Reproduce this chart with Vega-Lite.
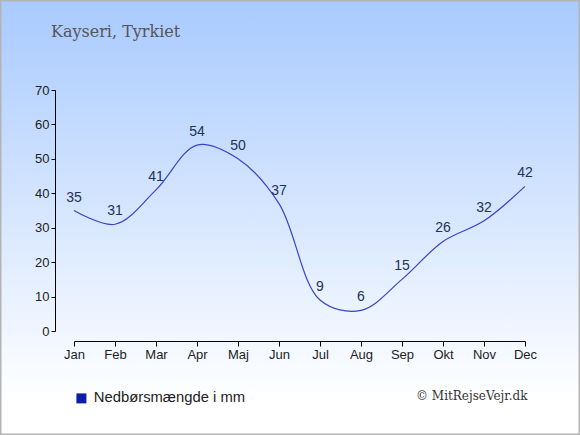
{
  "$schema": "https://vega.github.io/schema/vega-lite/v6.json",
  "width": 580,
  "height": 435,
  "autosize": "none",
  "padding": 0,
  "background": "#ffffff",
  "title": {
    "text": "Kayseri, Tyrkiet",
    "anchor": "start",
    "frame": "group",
    "orient": "top",
    "offset": -40,
    "dx": 51,
    "font": "DejaVu Serif",
    "fontSize": 16,
    "fontWeight": "normal",
    "color": "#555555"
  },
  "config": {
    "view": {
      "fill": {
        "gradient": "linear",
        "x1": 0, "y1": 0, "x2": 0, "y2": 1,
        "stops": [
          {"offset": 0, "color": "#a8caff"},
          {"offset": 0.92, "color": "#ffffff"}
        ]
      },
      "stroke": "#b4b4b4",
      "strokeWidth": 3
    },
    "axis": {
      "labelFont": "Liberation Sans",
      "labelFontSize": 13,
      "labelColor": "#222222",
      "domainColor": "#000000",
      "tickColor": "#000000",
      "grid": false
    }
  },
  "data": {
    "values": [
      {"month": "Jan", "mm": 35},
      {"month": "Feb", "mm": 31},
      {"month": "Mar", "mm": 41},
      {"month": "Apr", "mm": 54},
      {"month": "Maj", "mm": 50},
      {"month": "Jun", "mm": 37},
      {"month": "Jul", "mm": 9},
      {"month": "Aug", "mm": 6},
      {"month": "Sep", "mm": 15},
      {"month": "Okt", "mm": 26},
      {"month": "Nov", "mm": 32},
      {"month": "Dec", "mm": 42}
    ]
  },
  "encoding": {
    "x": {
      "field": "month",
      "type": "ordinal",
      "sort": null,
      "scale": {"type": "point", "range": [74, 525], "padding": 0},
      "axis": {
        "orient": "bottom",
        "offset": -94,
        "labelAngle": 0,
        "tickSize": 5,
        "title": "© MitRejseVejr.dk",
        "titleFont": "DejaVu Serif",
        "titleFontSize": 12,
        "titleFontWeight": "normal",
        "titleColor": "#333333",
        "titleX": 527,
        "titleY": 58,
        "titleAlign": "right",
        "titleBaseline": "alphabetic"
      }
    },
    "y": {
      "field": "mm",
      "type": "quantitative",
      "scale": {"domain": [0, 70], "range": [331, 90], "nice": false},
      "axis": {
        "orient": "left",
        "offset": -55,
        "values": [0, 10, 20, 30, 40, 50, 60, 70],
        "tickSize": 4,
        "title": null
      }
    }
  },
  "layer": [
    {
      "mark": {"type": "line", "interpolate": "catmull-rom", "strokeWidth": 1.2, "clip": false},
      "encoding": {
        "color": {
          "datum": "Nedbørsmængde i mm",
          "scale": {"range": ["#3a44c8"]},
          "legend": {
            "title": null,
            "orient": "none",
            "legendX": 74,
            "legendY": 391,
            "symbolType": "square",
            "symbolSize": 100,
            "labelFont": "Liberation Sans",
            "labelFontSize": 14.8,
            "labelColor": "#222222",
            "labelOffset": 5,
            "encode": {
              "symbols": {
                "update": {
                  "fill": {"value": "#0a1ea8"},
                  "stroke": {"value": "#0a1ea8"},
                  "strokeWidth": {"value": 0}
                }
              }
            }
          }
        }
      }
    },
    {
      "mark": {
        "type": "text",
        "dy": -13,
        "baseline": "middle",
        "font": "Liberation Sans",
        "fontSize": 14,
        "color": "#223355"
      },
      "encoding": {
        "text": {"field": "mm", "type": "quantitative"}
      }
    }
  ]
}
